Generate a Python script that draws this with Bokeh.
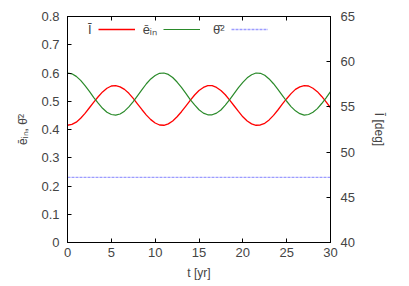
from bokeh.plotting import figure
from bokeh.models import (Range1d, LinearAxis, FixedTicker, Legend, LegendItem)
from bokeh.embed import file_html
from bokeh.resources import INLINE

# time [yr]
t = [i * 0.5 for i in range(61)]

# mean inner eccentricity
e_in = [0.415, 0.418, 0.426, 0.440, 0.457, 0.477, 0.497, 0.516, 0.533, 0.546,
        0.554, 0.555, 0.551, 0.542, 0.528, 0.510, 0.490, 0.470, 0.451, 0.435,
        0.423, 0.416, 0.415, 0.420, 0.430, 0.445, 0.463, 0.483, 0.503, 0.522,
        0.538, 0.549, 0.555, 0.555, 0.549, 0.538, 0.523, 0.504, 0.484, 0.464,
        0.445, 0.430, 0.420, 0.415, 0.416, 0.422, 0.434, 0.450, 0.469, 0.490,
        0.509, 0.527, 0.542, 0.551, 0.555, 0.554, 0.546, 0.534, 0.517, 0.498,
        0.477]

# mean theta^2
theta2 = [0.600, 0.597, 0.588, 0.574, 0.555, 0.535, 0.513, 0.493, 0.475, 0.461,
          0.453, 0.451, 0.455, 0.465, 0.480, 0.499, 0.520, 0.541, 0.562, 0.579,
          0.591, 0.599, 0.600, 0.595, 0.584, 0.568, 0.549, 0.528, 0.506, 0.487,
          0.470, 0.458, 0.452, 0.452, 0.458, 0.469, 0.486, 0.506, 0.527, 0.548,
          0.567, 0.583, 0.594, 0.600, 0.599, 0.592, 0.579, 0.562, 0.542, 0.521,
          0.500, 0.481, 0.466, 0.456, 0.451, 0.453, 0.461, 0.474, 0.492, 0.512,
          0.534]

# mean inclination [deg] (constant)
I_deg = [47.2] * len(t)

left_ticks = [0, 0.1, 0.2, 0.3, 0.4, 0.5, 0.6, 0.7, 0.8]
right_ticks = [40, 45, 50, 55, 60, 65]
x_ticks = [0, 5, 10, 15, 20, 25, 30]

FONT = "Liberation Sans"
FS = "13px"

p = figure(width=401, height=278, output_backend="svg", toolbar_location=None,
           x_range=Range1d(0, 30), y_range=Range1d(0, 0.8),
           min_border_left=67, min_border_right=71, min_border_top=16,
           min_border_bottom=36, x_axis_label="t [yr]",
           y_axis_label="ēᵢₙ, θ̄²")
p.frame_width = 263
p.frame_height = 226
p.extra_y_ranges = {"deg": Range1d(40, 65)}
p.grid.visible = False
p.outline_line_color = "black"
p.background_fill_color = "white"
p.border_fill_color = "white"

for ax in p.xaxis + p.yaxis:
    ax.major_tick_in = 4
    ax.major_tick_out = 0
    ax.minor_tick_line_color = None
    ax.major_label_text_font = FONT
    ax.major_label_text_font_size = FS
    ax.axis_label_text_font = FONT
    ax.axis_label_text_font_size = "12px"
    ax.axis_label_text_font_style = "normal"
    ax.axis_line_color = "black"
    ax.major_tick_line_color = "black"

p.xaxis.ticker = FixedTicker(ticks=x_ticks)
p.xaxis.major_label_standoff = 5
p.xaxis.axis_label_standoff = 6
p.yaxis.ticker = FixedTicker(ticks=left_ticks)
p.yaxis.major_label_standoff = 8
p.yaxis.axis_label_standoff = 8

right = LinearAxis(y_range_name="deg", axis_label="Ī [deg]",
                   ticker=FixedTicker(ticks=right_ticks))
right.major_tick_in = 4
right.major_tick_out = 0
right.minor_tick_line_color = None
right.major_label_text_font = FONT
right.major_label_text_font_size = FS
right.major_label_standoff = 10
right.axis_label_text_font = FONT
right.axis_label_text_font_size = "12px"
right.axis_label_text_font_style = "normal"
right.axis_label_standoff = 14
p.add_layout(right, "right")

top = LinearAxis(ticker=FixedTicker(ticks=x_ticks),
                 major_label_overrides={v: "" for v in x_ticks})
top.major_tick_in = 4
top.major_tick_out = 0
top.minor_tick_line_color = None
top.major_label_standoff = 0
top.major_label_text_font_size = "1px"
p.add_layout(top, "above")

blank = p.line(t, e_in, line_alpha=0)
r_red = p.line(t, e_in, line_color="#ff0000", line_width=1.3)
r_green = p.line(t, theta2, line_color="#2a8a2a", line_width=1.2)
r_blue = p.line(t, I_deg, y_range_name="deg", line_color="#9c9cff",
                line_width=1.3, line_dash="3 1")

legend = Legend(items=[LegendItem(label="Ī", renderers=[blank]),
                       LegendItem(label="ēᵢₙ", renderers=[r_red]),
                       LegendItem(label="\u2009\u2009θ̄²", renderers=[r_green]),
                       LegendItem(label=" ", renderers=[r_blue])],
                orientation="horizontal", location=(-24, 204),
                glyph_width=37, glyph_height=14, label_standoff=8, spacing=6,
                padding=0, margin=0, background_fill_alpha=0,
                border_line_alpha=0, label_width=1, label_height=14,
                label_text_font=FONT, label_text_font_size=FS)
p.add_layout(legend)

open("out.html", "w").write(file_html(p, INLINE))
